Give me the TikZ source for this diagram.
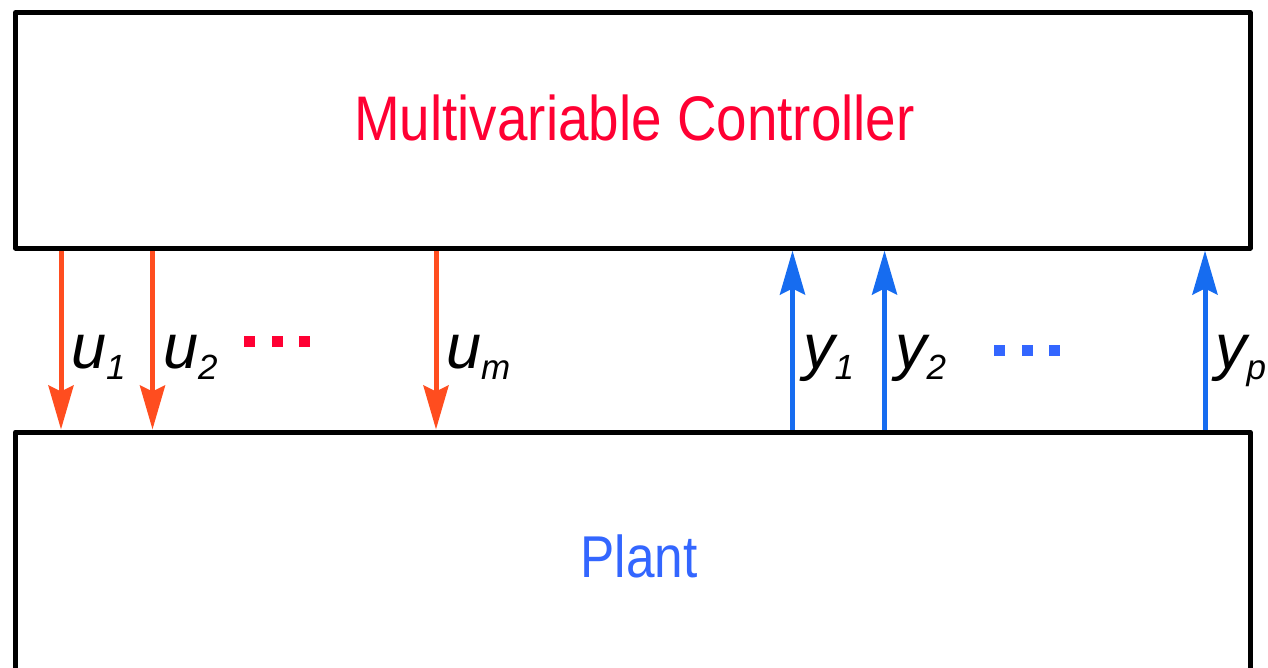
\documentclass[tikz,border=0pt]{standalone}
\usepackage{fontspec}
\setmainfont{Liberation Sans}
\usetikzlibrary{arrows.meta}
\definecolor{ctrlred}{RGB}{255,0,51}
\definecolor{plantblue}{RGB}{51,102,255}
\definecolor{uorange}{RGB}{255,77,31}
\definecolor{yblue}{RGB}{22,108,240}
\pgfdeclarelayer{background}
\pgfsetlayers{background,main}
\begin{document}
\begin{tikzpicture}[x=1pt,y=-1pt,
  blockbox/.style={draw=black,line width=5pt,line join=round,inner sep=0pt,fill=white},
  uarrow/.style={draw=uorange,line width=5pt,-{Stealth[length=44pt,width=25pt,inset=6pt]}},
  yarrow/.style={draw=yblue,line width=5pt,-{Stealth[length=44pt,width=25pt,inset=6pt]}},
  siglabel/.style={anchor=base west,inner sep=0pt,font=\fontsize{63}{63}\selectfont\itshape},
  reddot/.style={fill=ctrlred,minimum size=11pt,inner sep=0pt},
  bluedot/.style={fill=plantblue,minimum size=11pt,inner sep=0pt},
  title/.style={anchor=base,inner sep=0pt,xscale=0.87}
]
\useasboundingbox (0,0) rectangle (1268,667);
\clip (0,0) rectangle (1268,667);
% blocks
\node[blockbox,minimum width=1234.5pt,minimum height=235.5pt] (ctrl) at (632.75,130.25) {};
\node[blockbox,minimum width=1234.5pt,minimum height=468pt] (plant) at (632.75,666) {};
\node[title,text=ctrlred,font=\fontsize{63}{63}\selectfont] (ctrltext) at (634.5,140) {Multivariable Controller};
\node[title,text=plantblue,font=\fontsize{59}{59}\selectfont] (planttext) at (639,577) {Plant};
% arrow x positions
\coordinate (cu1) at (61,0);
\coordinate (cu2) at (152.5,0);
\coordinate (cum) at (436,0);
\coordinate (cy1) at (792.5,0);
\coordinate (cy2) at (884.5,0);
\coordinate (cyp) at (1205,0);
\begin{pgfonlayer}{background}
% manipulated inputs
\draw[uarrow] (ctrl.south -| cu1) -- (plant.north -| cu1);
\draw[uarrow] (ctrl.south -| cu2) -- (plant.north -| cu2);
\draw[uarrow] (ctrl.south -| cum) -- (plant.north -| cum);
% measured outputs
\draw[yarrow] (plant.north -| cy1) -- (ctrl.south -| cy1);
\draw[yarrow] (plant.north -| cy2) -- (ctrl.south -| cy2);
\draw[yarrow] (plant.north -| cyp) -- (ctrl.south -| cyp);
\end{pgfonlayer}
% labels
\node[siglabel] (lu1) at (71,368) {u\raisebox{-11pt}{\fontsize{35}{35}\selectfont 1}};
\node[siglabel] (lu2) at (163,368) {u\raisebox{-11pt}{\fontsize{35}{35}\selectfont 2}};
\node[siglabel] (lum) at (446,368) {u\raisebox{-11pt}{\fontsize{35}{35}\selectfont m}};
\node[siglabel] (ly1) at (803,368) {y\raisebox{-11pt}{\fontsize{35}{35}\selectfont 1}};
\node[siglabel] (ly2) at (895,368) {y\raisebox{-11pt}{\fontsize{35}{35}\selectfont 2}};
\node[siglabel] (lyp) at (1215,368) {y\raisebox{-11pt}{\fontsize{35}{35}\selectfont p}};
% dots
\node[reddot] (rd1) at (249.5,341) {};
\node[reddot] (rd2) at (277,341) {};
\node[reddot] (rd3) at (304.5,341) {};
\node[bluedot] (bd1) at (999.5,350) {};
\node[bluedot] (bd2) at (1027.5,350) {};
\node[bluedot] (bd3) at (1054.5,350) {};
\end{tikzpicture}
\end{document}
